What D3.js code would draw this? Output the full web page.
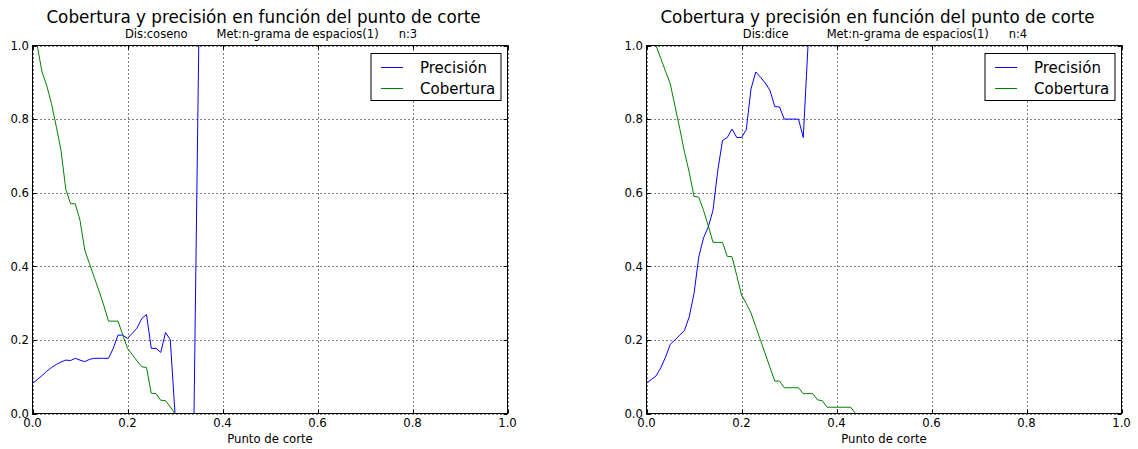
<!DOCTYPE html>
<html>
<head>
<meta charset="utf-8">
<script src="https://cdn.jsdelivr.net/npm/d3@7"></script>
<style>
  body { margin: 0; background: #fff; }
  svg { font-family: "DejaVu Sans", sans-serif; display: block; }
</style>
</head>
<body>
<svg id="chart" width="1138" height="449"></svg>
<script>
// Cut-off thresholds at which precision and coverage were evaluated
const cortes = [0.00, 0.01, 0.02, 0.03, 0.04, 0.05, 0.06, 0.07, 0.08, 0.09,
                0.10, 0.11, 0.12, 0.13, 0.14, 0.15, 0.16, 0.17, 0.18, 0.19,
                0.20, 0.21, 0.22, 0.23, 0.24, 0.25, 0.26, 0.27, 0.28, 0.29,
                0.30, 0.31, 0.32, 0.33, 0.34, 0.35, 0.36, 0.37, 0.38, 0.39,
                0.40, 0.41, 0.42, 0.43, 0.44, 0.45, 1.00];

// Dis:coseno, n:3
const precisionCoseno = [0.082, 0.092, 0.103, 0.115, 0.125, 0.133, 0.140, 0.145, 0.144, 0.150,
                         0.145, 0.141, 0.147, 0.150, 0.150, 0.150, 0.150, 0.177, 0.213, 0.213,
                         0.204, 0.218, 0.232, 0.258, 0.269, 0.177, 0.177, 0.166, 0.220, 0.201,
                         0, 0, 0, 0, 0, 1, 1, 1, 1, 1,
                         1, 1, 1, 1, 1, 1, 1];
const coberturaCoseno = [1.0, 1.0, 0.928, 0.891, 0.842, 0.780, 0.715, 0.610, 0.570, 0.570,
                         0.525, 0.444, 0.407, 0.370, 0.333, 0.294, 0.251, 0.251, 0.251, 0.214,
                         0.177, 0.160, 0.143, 0.127, 0.125, 0.055, 0.054, 0.036, 0.035, 0.018,
                         0, 0, 0, 0, 0, 0, 0, 0, 0, 0,
                         0, 0, 0, 0, 0, 0, 0];

// Dis:dice, n:4
const precisionDice = [0.082, 0.092, 0.102, 0.124, 0.153, 0.188, 0.200, 0.213, 0.226, 0.263,
                       0.326, 0.425, 0.477, 0.507, 0.552, 0.660, 0.742, 0.750, 0.773, 0.750,
                       0.750, 0.771, 0.882, 0.928, 0.914, 0.898, 0.878, 0.834, 0.833, 0.800,
                       0.800, 0.800, 0.800, 0.750, 1, 1, 1, 1, 1, 1,
                       1, 1, 1, 1, 1, 1, 1];
const coberturaDice = [1.0, 1.0, 1.0, 0.965, 0.930, 0.896, 0.835, 0.774, 0.710, 0.655,
                       0.590, 0.588, 0.552, 0.510, 0.465, 0.465, 0.465, 0.427, 0.426, 0.375,
                       0.322, 0.299, 0.273, 0.236, 0.199, 0.162, 0.125, 0.088, 0.088, 0.070,
                       0.070, 0.070, 0.070, 0.054, 0.054, 0.054, 0.037, 0.035, 0.017, 0.017,
                       0.017, 0.017, 0.017, 0.017, 0, 0, 0];

const tickValues = [0.0, 0.2, 0.4, 0.6, 0.8, 1.0];
const tickLabels = ["0.0", "0.2", "0.4", "0.6", "0.8", "1.0"];
const seriesNames = ["Precisión", "Cobertura"];
const seriesColors = ["#0000ff", "#008000"];
const titulo = "Cobertura y precisión en función del punto de corte";
const ejeX = "Punto de corte";

const panels = [
  { left: 32.5, right: 507.5, sub: ["Dis:coseno", "Met:n-grama de espacios(1)", "n:3"], gaps: [29, 20],
    series: [precisionCoseno, coberturaCoseno] },
  { left: 646.5, right: 1121.5, sub: ["Dis:dice", "Met:n-grama de espacios(1)", "n:4"], gaps: [38, 20],
    series: [precisionDice, coberturaDice] }
];

const plotTop = 45.5, plotBottom = 413.5;
const svg = d3.select("#chart");

panels.forEach((p, idx) => {
  const x = d3.scaleLinear().domain([0, 1]).range([p.left, p.right]);
  const y = d3.scaleLinear().domain([0, 1]).range([plotBottom, plotTop]);
  const g = svg.append("g");
  const cx = (p.left + p.right) / 2;

  // title and subtitle
  g.append("text").attr("x", cx - 6.5).attr("y", 23)
    .attr("text-anchor", "middle").attr("font-size", 16.8).attr("fill", "#000")
    .text(titulo);
  const st = g.append("text").attr("x", cx + 1).attr("y", 37.5)
    .attr("text-anchor", "middle").attr("font-size", 11.5).attr("fill", "#000");
  st.append("tspan").text(p.sub[0]);
  st.append("tspan").attr("dx", p.gaps[0]).text(p.sub[1]);
  st.append("tspan").attr("dx", p.gaps[1]).text(p.sub[2]);

  // dotted grid
  const grid = g.append("g").attr("stroke", "#000").attr("stroke-width", 1)
    .attr("stroke-dasharray", "1,3");
  tickValues.forEach(t => {
    grid.append("line").attr("x1", Math.round(x(t)) + 0.5).attr("x2", Math.round(x(t)) + 0.5)
      .attr("y1", plotTop).attr("y2", plotBottom);
    grid.append("line").attr("y1", Math.round(y(t)) + 0.5).attr("y2", Math.round(y(t)) + 0.5)
      .attr("x1", p.left).attr("x2", p.right);
  });

  // data lines
  const clipId = "clip" + idx;
  svg.append("clipPath").attr("id", clipId).append("rect")
    .attr("x", p.left).attr("y", plotTop).attr("width", p.right - p.left).attr("height", plotBottom - plotTop);
  const line = d3.line().x((d, i) => x(cortes[i])).y(d => y(d));
  p.series.forEach((s, k) => {
    g.append("path").datum(s).attr("clip-path", `url(#${clipId})`)
      .attr("fill", "none").attr("stroke", seriesColors[k]).attr("stroke-width", 1)
      .attr("d", line);
  });

  // inward ticks on all sides
  const tk = g.append("g").attr("stroke", "#000").attr("stroke-width", 1);
  tickValues.forEach(t => {
    const xv = Math.round(x(t)) + 0.5, yv = Math.round(y(t)) + 0.5;
    tk.append("line").attr("x1", xv).attr("x2", xv).attr("y1", plotBottom).attr("y2", plotBottom - 4);
    tk.append("line").attr("x1", xv).attr("x2", xv).attr("y1", plotTop).attr("y2", plotTop + 4);
    tk.append("line").attr("y1", yv).attr("y2", yv).attr("x1", p.left).attr("x2", p.left + 4);
    tk.append("line").attr("y1", yv).attr("y2", yv).attr("x1", p.right).attr("x2", p.right - 4);
  });

  // frame
  g.append("rect").attr("x", p.left).attr("y", plotTop)
    .attr("width", p.right - p.left).attr("height", plotBottom - plotTop)
    .attr("fill", "none").attr("stroke", "#000").attr("stroke-width", 1);

  // tick labels
  tickValues.forEach((t, i) => {
    g.append("text").attr("x", x(t)).attr("y", 426.5).attr("text-anchor", "middle")
      .attr("font-size", 11.7).text(tickLabels[i]);
    g.append("text").attr("x", p.left - 3.5).attr("y", y(t) + 4.2).attr("text-anchor", "end")
      .attr("font-size", 11.7).text(tickLabels[i]);
  });

  // axis label
  g.append("text").attr("x", cx).attr("y", 443).attr("text-anchor", "middle")
    .attr("font-size", 11.7).text(ejeX);

  // legend
  const lx = p.right - 136.5, ly = plotTop + 8;
  const lg = g.append("g");
  lg.append("rect").attr("x", lx).attr("y", ly).attr("width", 130).attr("height", 47)
    .attr("fill", "#fff").attr("stroke", "#000").attr("stroke-width", 1);
  seriesNames.forEach((name, k) => {
    const yy = ly + 14 + k * 21;
    lg.append("line").attr("x1", lx + 10).attr("x2", lx + 32).attr("y1", yy).attr("y2", yy)
      .attr("stroke", seriesColors[k]).attr("stroke-width", 1);
    lg.append("text").attr("x", lx + 49).attr("y", yy + 5.4).attr("font-size", 15).text(name);
  });
});
</script>
</body>
</html>
